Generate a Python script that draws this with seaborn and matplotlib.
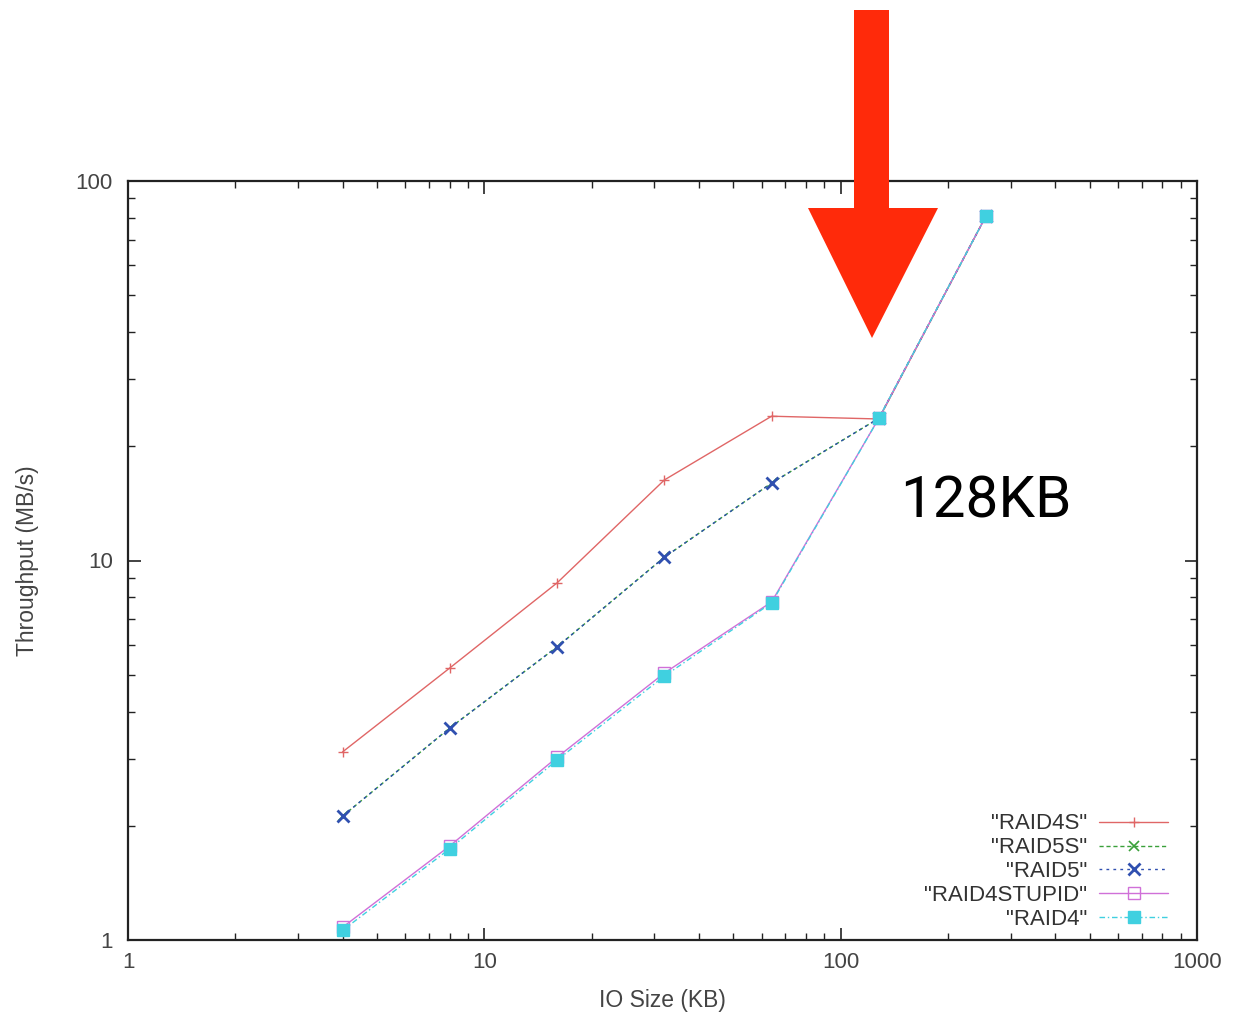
import matplotlib
matplotlib.use("Agg")
import matplotlib.pyplot as plt
from matplotlib.patches import Polygon
from matplotlib.ticker import LogLocator, NullFormatter, FixedLocator, FixedFormatter
import seaborn as sns
import pandas as pd

# IO sizes in KB
io_size = [4, 8, 16, 32, 64, 128, 256]

# Throughput in MB/s per RAID configuration
raid4s = [3.13, 5.21, 8.73, 16.3, 24.0, 23.6, 81.0]
raid5s = [2.12, 3.62, 5.92, 10.2, 16.0, 23.7, 81.0]
raid5 = [2.12, 3.62, 5.92, 10.2, 16.0, 23.7, 81.0]
raid4stupid = [1.08, 1.77, 3.03, 5.05, 7.78, 23.7, 81.0]
raid4 = [1.06, 1.74, 2.98, 4.96, 7.73, 23.7, 81.0]

series_names = ['"RAID4S"', '"RAID5S"', '"RAID5"', '"RAID4STUPID"', '"RAID4"']
series_values = [raid4s, raid5s, raid5, raid4stupid, raid4]

styles = {
    '"RAID4S"': dict(color="#e06666", marker="+", ls="-", mfc="#e06666", ms=7, mew=1.0),
    '"RAID5S"': dict(color="#3aa03a", marker="x", ls=(0, (3, 2)), mfc="#3aa03a", ms=7, mew=1.2),
    '"RAID5"': dict(color="#3050b0", marker="x", ls=(0, (2, 3)), mfc="#3050b0", ms=8, mew=2.0),
    '"RAID4STUPID"': dict(color="#d070d8", marker="s", ls="-", mfc="none", ms=8, mew=1.0),
    '"RAID4"': dict(color="#40d0e0", marker="s", ls=(0, (4, 2, 1, 2)), mfc="#40d0e0", ms=8, mew=1.0),
}

sns.set_theme(style="ticks")
plt.rcParams["font.family"] = ["Liberation Sans", "DejaVu Sans"]

W, H = 1233, 1019
fig = plt.figure(figsize=(W / 100, H / 100), dpi=100)
ax = fig.add_axes([128 / W, 1 - 940 / H, (1197 - 128) / W, (940 - 181) / H])

for name, vals in zip(series_names, series_values):
    df = pd.DataFrame({"io": io_size, "tp": vals})
    st = styles[name]
    sns.lineplot(data=df, x="io", y="tp", ax=ax, color=st["color"], lw=1.0,
                 linestyle=st["ls"], marker=st["marker"], markersize=st["ms"],
                 markerfacecolor=st["mfc"], markeredgecolor=st["color"],
                 markeredgewidth=st["mew"], label=name)

ax.set_xscale("log")
ax.set_yscale("log")
ax.set_xlim(1, 1000)
ax.set_ylim(1, 100)

ax.xaxis.set_major_locator(FixedLocator([1, 10, 100, 1000]))
ax.xaxis.set_major_formatter(FixedFormatter(["1", "10", "100", "1000"]))
ax.yaxis.set_major_locator(FixedLocator([1, 10, 100]))
ax.yaxis.set_major_formatter(FixedFormatter(["1", "10", "100"]))
ax.xaxis.set_minor_locator(LogLocator(base=10, subs=range(2, 10)))
ax.yaxis.set_minor_locator(LogLocator(base=10, subs=range(2, 10)))
ax.xaxis.set_minor_formatter(NullFormatter())
ax.yaxis.set_minor_formatter(NullFormatter())

ax.tick_params(which="both", direction="in", top=True, right=True,
               colors="#222222", labelcolor="#444444", labelsize=16)
ax.tick_params(which="major", length=9, width=1.2)
ax.tick_params(axis="x", which="major", pad=9)
ax.tick_params(axis="y", which="major", pad=11)
ax.tick_params(which="minor", length=5, width=1.0)
for sp in ax.spines.values():
    sp.set_linewidth(1.6)
    sp.set_color("#222222")

ax.set_xlabel("IO Size (KB)", fontsize=16.5, color="#444444", labelpad=11)
ax.set_ylabel("Throughput (MB/s)", fontsize=16.5, color="#444444", labelpad=26)

leg = ax.legend(loc="lower right", bbox_to_anchor=(1168 / W, 1 - 930 / H),
                bbox_transform=fig.transFigure, frameon=False, markerfirst=False,
                fontsize=16, handlelength=3.1, labelspacing=0.13,
                borderaxespad=0, borderpad=0, handletextpad=0.55)
for t in leg.get_texts():
    t.set_color("#333333")

# Red arrow pointing at the 128KB knee
def px(x, y):
    return (x / W, 1 - y / H)

arrow_pts = [(854, 10), (889, 10), (889, 208), (938, 208), (872, 338),
             (808, 208), (854, 208)]
fig.patches.append(Polygon([px(x, y) for x, y in arrow_pts], closed=True,
                           transform=fig.transFigure, facecolor="#ff2a0a",
                           edgecolor="none", zorder=10))
fig.text(900 / W, 1 - 502 / H, "128KB", fontsize=42, color="black",
         family=["Roboto", "DejaVu Sans"], va="center", ha="left")

fig.savefig("out.png", dpi=100)
